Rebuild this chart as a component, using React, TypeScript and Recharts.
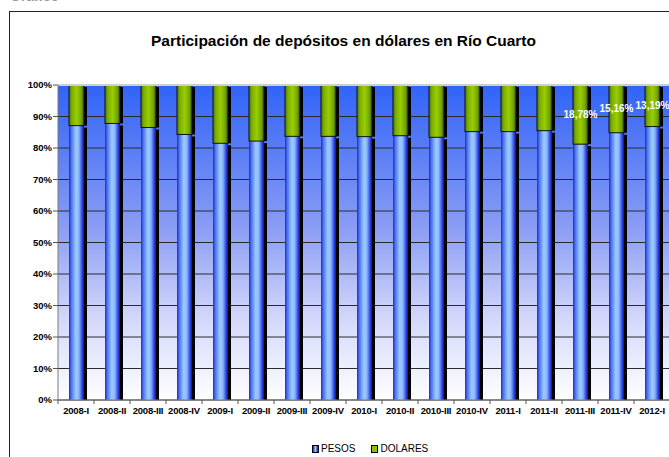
import {
  BarChart,
  Bar,
  XAxis,
  YAxis,
  CartesianGrid,
  LabelList,
  ReferenceLine,
} from "recharts";

const categories = [
  "2008-I", "2008-II", "2008-III", "2008-IV",
  "2009-I", "2009-II", "2009-III", "2009-IV",
  "2010-I", "2010-II", "2010-III", "2010-IV",
  "2011-I", "2011-II", "2011-III", "2011-IV",
  "2012-I",
];
const pesos = [
  87.1, 87.8, 86.5, 84.3, 81.5, 82.2, 83.7, 83.7,
  83.6, 83.9, 83.4, 85.2, 85.2, 85.5, 81.22, 84.84, 86.81,
];
const dolares = [
  12.9, 12.2, 13.5, 15.7, 18.5, 17.8, 16.3, 16.3,
  16.4, 16.1, 16.6, 14.8, 14.8, 14.5, 18.78, 15.16, 13.19,
];
const dolaresLabels = [
  "", "", "", "", "", "", "", "",
  "", "", "", "", "", "", "18,78%", "15,16%", "13,19%",
];
const yTicks = [0, 10, 20, 30, 40, 50, 60, 70, 80, 90, 100];

const data = categories.map((name, i) => ({
  name,
  PESOS: pesos[i],
  DOLARES: dolares[i],
  label: dolaresLabels[i],
}));

const FONT = "'Liberation Sans', Arial, sans-serif";
const PLOT_W = 612;
const band = PLOT_W / categories.length;

function CylinderBar(props: any) {
  const { x, y, width, height, gradId, outline } = props;
  if (!height || height <= 0) return null;
  return (
    <g>
      <rect x={x + width} y={y + 2} width={3} height={height - 2} fill="#000" />
      <rect
        x={x}
        y={y}
        width={width}
        height={height}
        fill={`url(#${gradId})`}
        stroke={outline}
        strokeWidth={outline === "none" ? 0 : 1}
      />
    </g>
  );
}

function XTick(props: any) {
  const { x, y, payload } = props;
  const left = x - band / 2;
  return (
    <g>
      <line x1={left} x2={left} y1={y} y2={y + 4} stroke="#555" />
      <text
        x={x}
        y={y + 14}
        textAnchor="middle"
        fontSize={9.5}
        fontWeight="bold"
        fontFamily={FONT}
        fill="#000"
        letterSpacing={-0.2}
      >
        {payload.value}
      </text>
    </g>
  );
}

function DollarLabel(props: any) {
  const { x, y, width, height, value } = props;
  if (!value) return null;
  return (
    <text
      x={x + width / 2}
      y={y + height / 2}
      textAnchor="middle"
      dominantBaseline="central"
      fill="#fff"
      fontSize={10}
      fontWeight="bold"
      fontFamily={FONT}
    >
      {value}
    </text>
  );
}

export default function App() {
  return (
    <div
      style={{
        position: "absolute",
        left: 0,
        top: 0,
        width: 669,
        height: 457,
        overflow: "hidden",
        background: "#fff",
        fontFamily: FONT,
      }}
    >
      <div
        style={{
          position: "absolute",
          left: 10,
          top: -12,
          fontSize: 14,
          fontWeight: "bold",
          color: "#9a9a9a",
        }}
      >
        Gráfico
      </div>
      <div
        style={{
          position: "absolute",
          left: 9,
          top: 11,
          width: 700,
          height: 500,
          border: "1px solid #222",
        }}
      />
      <div
        style={{
          position: "absolute",
          left: 0,
          top: 32,
          width: 669,
          textAlign: "center",
          fontSize: 15.5,
          fontWeight: "bold",
          color: "#000",
          paddingLeft: 18,
          boxSizing: "border-box",
        }}
      >
        Participación de depósitos en dólares en Río Cuarto
      </div>
      <div style={{ position: "absolute", left: 0, top: 0 }}>
        <BarChart
          width={680}
          height={457}
          data={data}
          margin={{ top: 85, right: 10, bottom: 27, left: 0 }}
          barSize={15}
        >
          <defs>
            <linearGradient id="bgGrad" x1="0" y1="0" x2="0" y2="1">
              <stop offset="0%" stopColor="#3063F8" />
              <stop offset="45%" stopColor="#8A9CF4" />
              <stop offset="75%" stopColor="#D4D9FB" />
              <stop offset="100%" stopColor="#FFFFFF" />
            </linearGradient>
            <linearGradient id="pesosGrad" x1="0" y1="0" x2="1" y2="0">
              <stop offset="0%" stopColor="#1C2CC8" />
              <stop offset="15%" stopColor="#4C70F2" />
              <stop offset="45%" stopColor="#9CCBFF" />
              <stop offset="65%" stopColor="#8CB9FF" />
              <stop offset="88%" stopColor="#2C40E4" />
              <stop offset="100%" stopColor="#10109A" />
            </linearGradient>
            <linearGradient id="dolaresGrad" x1="0" y1="0" x2="1" y2="0">
              <stop offset="0%" stopColor="#4C7A00" />
              <stop offset="20%" stopColor="#7DB000" />
              <stop offset="50%" stopColor="#9ACC00" />
              <stop offset="80%" stopColor="#78A800" />
              <stop offset="100%" stopColor="#3A5C00" />
            </linearGradient>
          </defs>
          <CartesianGrid
            vertical={false}
            stroke="#2a2a2a"
            fill="url(#bgGrad)"
            fillOpacity={1}
          />
          <ReferenceLine y={100} stroke="#cfcfcf" strokeWidth={2} />
          <XAxis
            dataKey="name"
            height={30}
            interval={0}
            tickLine={false}
            tickSize={0}
            tickMargin={0}
            tick={<XTick />}
            axisLine={{ stroke: "#7a7a7a" }}
          />
          <YAxis
            width={58}
            domain={[0, 100]}
            ticks={yTicks}
            interval={0}
            tickFormatter={(v) => `${v}%`}
            tickSize={5}
            tickMargin={1}
            tickLine={{ stroke: "#555" }}
            axisLine={{ stroke: "#7a7a7a" }}
            tick={{ fontSize: 9.5, fontWeight: "bold", fill: "#000", fontFamily: FONT }}
          />
          <Bar
            dataKey="PESOS"
            stackId="a"
            isAnimationActive={false}
            shape={(p: any) => <CylinderBar {...p} gradId="pesosGrad" outline="none" />}
          />
          <Bar
            dataKey="DOLARES"
            stackId="a"
            isAnimationActive={false}
            shape={(p: any) => <CylinderBar {...p} gradId="dolaresGrad" outline="#111" />}
          >
            <LabelList dataKey="label" content={<DollarLabel />} />
          </Bar>
        </BarChart>
      </div>
      <div
        style={{
          position: "absolute",
          left: 312,
          top: 443,
          display: "flex",
          alignItems: "center",
          fontSize: 10,
          color: "#000",
          lineHeight: "12px",
        }}
      >
        <span
          style={{
            display: "inline-block",
            width: 5,
            height: 6,
            background: "linear-gradient(90deg, #1C2CC8, #9CCBFF, #10109A)",
            border: "1px solid #000",
            marginRight: 2,
          }}
        />
        <span style={{ marginRight: 16 }}>PESOS</span>
        <span
          style={{
            display: "inline-block",
            width: 5,
            height: 6,
            background: "#8CC000",
            border: "1px solid #000",
            marginRight: 2,
          }}
        />
        <span>DOLARES</span>
      </div>
    </div>
  );
}
